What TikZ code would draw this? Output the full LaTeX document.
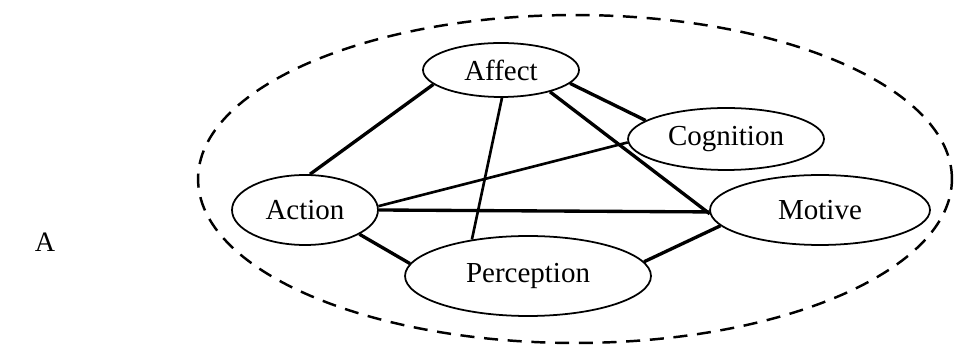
\documentclass[tikz,border=0pt]{standalone}
\usepackage{fontspec}
\setmainfont{Liberation Serif}
\usetikzlibrary{shapes.geometric,positioning}

\begin{document}
\begin{tikzpicture}[
    x=0.02cm, y=-0.02cm,
    concept/.style={ellipse, draw, line width=1pt, inner sep=0pt, font=\fontsize{16.5}{19}\selectfont},
    link/.style={line width=1.9pt},
    thinlink/.style={line width=1.5pt},
    field/.style={ellipse, draw, line width=1.4pt, dash pattern=on 8pt off 5.5pt, inner sep=0pt},
]
\useasboundingbox (0,0) rectangle (955,350);

% Outer field and panel label
\node[field, minimum width=15.08cm, minimum height=6.56cm] (outer) at (575,179) {};
\node[font=\fontsize{16}{19}\selectfont] (panel) at (45,242) {A};

% Concepts
\node[concept, minimum width=3.12cm, minimum height=1.08cm] (affect) at (501,70) {Affect};
\node[concept, minimum width=3.92cm, minimum height=1.24cm] (cognition) at (726,139) {Cognition};
\node[concept, minimum width=2.92cm, minimum height=1.4cm] (action) at (305,210) {Action};
\node[concept, minimum width=4.4cm, minimum height=1.4cm] (motive) at (820,210) {Motive};
\node[concept, minimum width=4.92cm, minimum height=1.6cm] (perception) at (528,276) {Perception};

% Links
\draw[link] (affect.192) -- (action.82);
\draw[thinlink] (affect.272) -- (perception.147);
\draw[link] (affect.349) -- (cognition.167);
\draw[link] (affect.336) -- (motive.182);
\draw[thinlink] (cognition.182) -- (action.3);
\draw[link] (action.0) -- (motive.181);
\draw[link] (action.336) -- (perception.174);
\draw[link] (perception.7) -- (motive.189);

\end{tikzpicture}
\end{document}
